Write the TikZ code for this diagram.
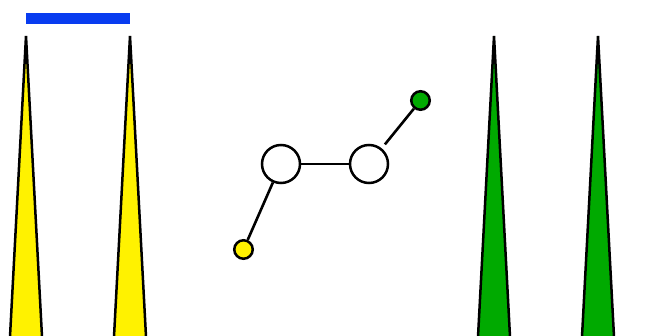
\documentclass[tikz,border=0pt]{standalone}
\definecolor{barblue}{RGB}{8,60,240}
\definecolor{leafgreen}{RGB}{0,170,0}
\begin{document}
\begin{tikzpicture}[x=1pt,y=-1pt,
  big/.style={circle,draw,line width=2.5pt,fill=white,minimum size=38pt,inner sep=0pt},
  small/.style={circle,draw,line width=2.5pt,minimum size=18.5pt,inner sep=0pt},
  spike/.style={draw,line width=2.5pt,line join=miter},
  bond/.style={line width=2.6pt}]
  \useasboundingbox (0,0) rectangle (658,336);
  \clip (0,0) rectangle (658,336);
  \fill [barblue] (26,13) rectangle (130,24);
  \filldraw [spike,fill=yellow]    (26,36)  -- (9.5,346)   -- (42.5,346)  -- cycle;
  \filldraw [spike,fill=yellow]    (130,36) -- (113.5,346) -- (146.5,346) -- cycle;
  \filldraw [spike,fill=leafgreen] (494,36) -- (477.5,346) -- (510.5,346) -- cycle;
  \filldraw [spike,fill=leafgreen] (598,36) -- (581.5,346) -- (614.5,346) -- cycle;
  \node [big] (l) at (281,164) {};
  \node [big] (r) at (369,164) {};
  \node [small,fill=yellow]    (y) at (243.5,249.5) {};
  \node [small,fill=leafgreen] (g) at (420.5,100.5) {};
  \draw [bond] (l) -- (r);
  \draw [bond] (l) -- (y);
  \draw [bond,shorten <=5pt] (r) -- (g);
\end{tikzpicture}
\end{document}
